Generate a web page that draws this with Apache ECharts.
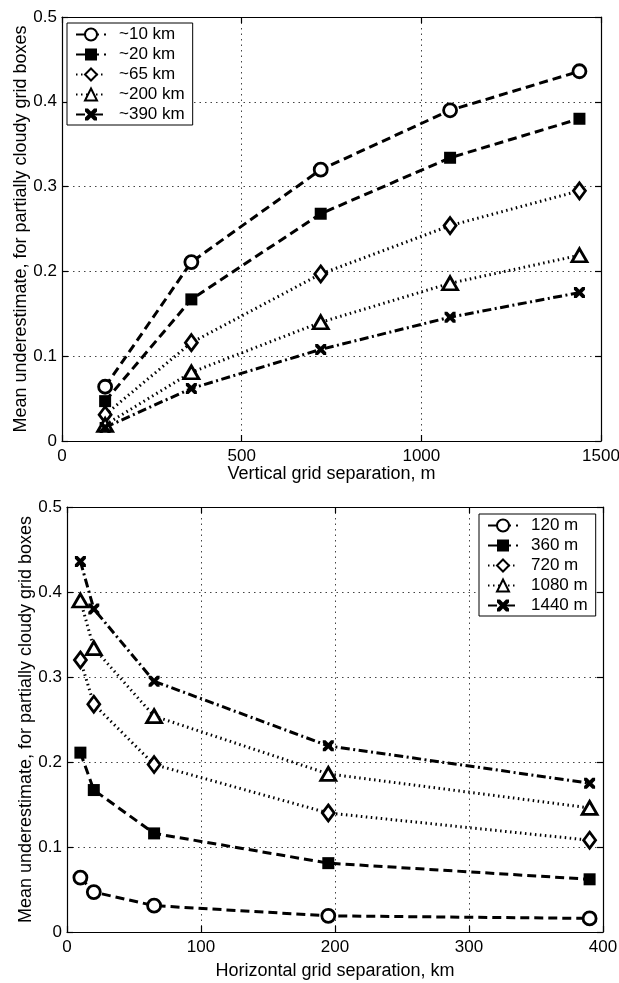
<!DOCTYPE html>
<html>
<head>
<meta charset="utf-8">
<script src="https://cdn.jsdelivr.net/npm/echarts@6/dist/echarts.min.js"></script>
<style>
  html, body { margin: 0; padding: 0; background: #fff; }
  #chart { width: 619px; height: 983px; }
</style>
</head>
<body>
<div id="chart"></div>
<script>
// vertical grid separations (m) and horizontal grid separations (km)
const vertSep = [120, 360, 720, 1080, 1440];
const horizSep = [10, 20, 65, 195, 390];

// one row per horizontal scale, values at each vertical separation
const scaleNames = ['~10 km', '~20 km', '~65 km', '~200 km', '~390 km'];
const km10 = [0.064, 0.211, 0.320, 0.390, 0.436];
const km20 = [0.047, 0.167, 0.268, 0.334, 0.380];
const km65 = [0.031, 0.116, 0.197, 0.254, 0.295];
const km200 = [0.019, 0.081, 0.140, 0.186, 0.219];
const km390 = [0.016, 0.062, 0.108, 0.146, 0.175];
const sepNames = ['120 m', '360 m', '720 m', '1080 m', '1440 m'];

const yTicks = [0, 0.1, 0.2, 0.3, 0.4, 0.5];

const rows = [km10, km20, km65, km200, km390];

const FONT = 'Liberation Sans';
const crossPath = 'path://M0,0 L2.5,0 L5,2.5 L7.5,0 L10,0 L10,2.5 L7.5,5 L10,7.5 L10,10 L7.5,10 L5,7.5 L2.5,10 L0,10 L0,7.5 L2.5,5 L0,2.5 Z';

const marks = [
  { symbol: 'circle', size: 13, dash: [9, 5], hollow: true },
  { symbol: 'rect', size: 12, dash: [9, 5], hollow: false },
  { symbol: 'diamond', size: [12, 16], dash: [1.5, 3.5], hollow: true },
  { symbol: 'triangle', size: [15, 13], dash: [1.5, 3.5], hollow: true },
  { symbol: crossPath, size: 11, dash: [9, 3.5, 2, 3.5], hollow: false },
];

function makeSeries(name, xs, ys, k, idx) {
  const m = marks[k];
  return {
    name: name,
    type: 'line',
    xAxisIndex: idx,
    yAxisIndex: idx,
    data: xs.map((x, i) => [x, ys[i]]),
    symbol: m.symbol,
    symbolSize: m.size,
    showAllSymbol: true,
    lineStyle: { color: '#000', width: 3, type: m.dash },
    itemStyle: m.hollow
      ? { color: '#fff', borderColor: '#000', borderWidth: 2.8 }
      : { color: '#000', borderColor: '#000', borderWidth: 0 },
    emphasis: { disabled: true },
    animation: false,
    z: 5,
  };
}

const series = [];
rows.forEach((r, k) => series.push(makeSeries(scaleNames[k], vertSep, r, k, 0)));
sepNames.forEach((n, j) => series.push(makeSeries(n, horizSep, rows.map(r => r[j]), j, 1)));

const nameStyle = { color: '#000', fontFamily: FONT, fontSize: 18 };
const labelStyle = { color: '#000', fontFamily: FONT, fontSize: 17 };
const gridLine = { show: true, lineStyle: { color: '#444', type: [1.5, 4], width: 1 } };
const axisLine = { show: true, onZero: false, lineStyle: { color: '#000', width: 1.2 } };
const tick = { show: true, inside: true, length: 6, lineStyle: { color: '#000', width: 1.2 } };

function xAxis(idx, max, interval, name, gap) {
  return {
    type: 'value', gridIndex: idx, min: 0, max: max, interval: interval,
    name: name, nameLocation: 'middle', nameGap: gap, nameMoveOverlap: false,
    nameTextStyle: nameStyle,
    axisLine: axisLine,
    axisTick: tick,
    axisLabel: Object.assign({ margin: 7, formatter: v => String(v) }, labelStyle),
    splitLine: gridLine,
  };
}
function yAxis(idx) {
  return {
    type: 'value', gridIndex: idx, min: yTicks[0], max: yTicks[yTicks.length - 1], interval: 0.1,
    name: 'Mean underestimate, for partially cloudy grid boxes',
    nameLocation: 'middle', nameGap: 32, nameMoveOverlap: false,
    nameTextStyle: nameStyle,
    axisLine: axisLine,
    axisTick: tick,
    axisLabel: Object.assign({ margin: 5, formatter: v => (v === 0 ? '0' : String(+v.toFixed(1))) }, labelStyle),
    splitLine: gridLine,
  };
}
// mirror axes on top / right that only carry ticks
function mirror(base, pos) {
  return Object.assign({}, base, {
    position: pos, name: '', axisLabel: { show: false }, splitLine: { show: false },
  });
}

function legend(names, pos) {
  return Object.assign({
    data: names,
    orient: 'vertical',
    backgroundColor: '#fff',
    borderColor: '#000',
    borderWidth: 1,
    borderRadius: 0,
    padding: [3, 8, 2, 8],
    itemGap: 3,
    itemWidth: 30,
    itemHeight: 15,
    textStyle: { color: '#000', fontFamily: FONT, fontSize: 17, lineHeight: 17, padding: [0, 0, 0, 8] },
    selectedMode: false,
    z: 10,
  }, pos);
}

const xs = [
  xAxis(0, 1500, 500, 'Vertical grid separation, m', 24),
  xAxis(1, 400, 100, 'Horizontal grid separation, km', 30),
];
const ys = [yAxis(0), yAxis(1)];

const option = {
  backgroundColor: '#fff',
  animation: false,
  grid: [
    { left: 62, top: 17, width: 539, height: 424, outerBoundsMode: 'none', containLabel: false },
    { left: 67, top: 507, width: 536, height: 425, outerBoundsMode: 'none', containLabel: false },
  ],
  xAxis: xs.concat([mirror(xs[0], 'top'), mirror(xs[1], 'top')]),
  yAxis: ys.concat([mirror(ys[0], 'right'), mirror(ys[1], 'right')]),
  legend: [
    legend(scaleNames, { left: 67, top: 23 }),
    legend(sepNames, { left: 479, top: 514 }),
  ],
  series: series,
};

const chart = echarts.init(document.getElementById('chart'), null, { renderer: 'canvas' });
chart.setOption(option);
</script>
</body>
</html>
